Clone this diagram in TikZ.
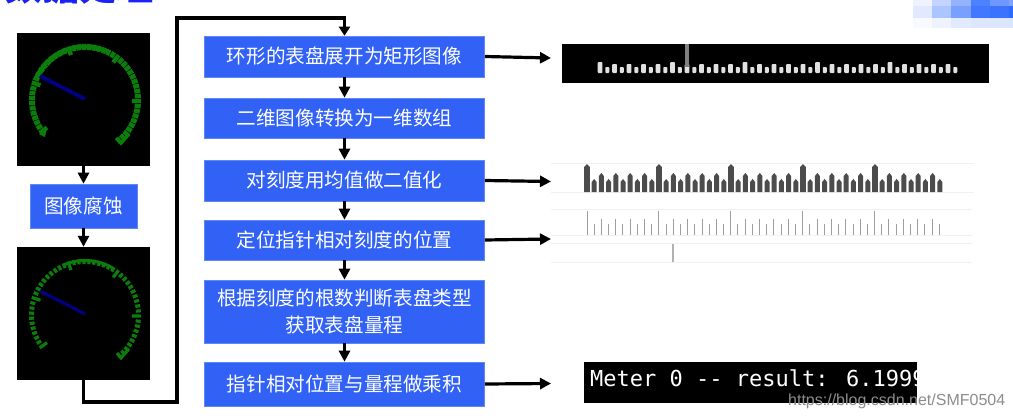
\documentclass[tikz,border=0pt]{standalone}
\usepackage{fontspec}
\setmainfont{Noto Sans CJK SC}
\newfontfamily\wmfont{Liberation Sans}
\newfontfamily\resfont{DejaVu Sans Mono}
\usetikzlibrary{arrows.meta}
\definecolor{boxblue}{HTML}{3162F5}
\definecolor{boxedge}{HTML}{5F88F7}
\definecolor{titleblue}{HTML}{1A22F5}
\definecolor{gaugegreen}{HTML}{0A7D0A}
\definecolor{needleblue}{HTML}{000080}
\definecolor{faint}{HTML}{F1F1F1}
\tikzset{
  stepbox/.style={fill=boxblue,draw=boxedge,line width=0.6pt,text=white,inner sep=0pt,align=center,minimum width=280pt,font=\fontsize{19.6}{27}\selectfont},
  blackpanel/.style={fill=black,inner sep=0pt,minimum width=133pt,minimum height=133pt},
  flow/.style={line width=3.2pt,draw=black,-{Triangle[length=11pt,width=11pt]}},
  route/.style={line width=3.2pt,draw=black,line join=miter,-{Triangle[length=9pt,width=11pt]}},
  faintline/.style={draw=faint,line width=1pt},
}
\begin{document}
\begin{tikzpicture}[x=1pt,y=-1pt]
\useasboundingbox (0,0) rectangle (1013,418);
\fill[white] (0,0) rectangle (1013,418);

% clipped heading
\begin{scope}
\clip (0,0) rectangle (200,4);
\node[anchor=base west,inner sep=0pt,text=titleblue,font=\fontsize{37}{37}\selectfont\bfseries] (title) at (5,0.5) {数据处理};
\end{scope}

% pixelated corner
\foreach \cx/\cy/\col in {
 913/0/EEF3FF,932/0/C2D4FF,951/0/93B3FF,971/0/4D82FF,990/0/6E97FF,1009/0/7FA3FF,
 913/6/E0E9FF,932/6/ABC5FF,951/6/79A0FF,971/6/4178FF,990/6/3B73FF,1009/6/2F6AFF,
 913/18/F8FAFF,932/18/EEF3FF,951/18/E2EAFF,971/18/DDE6FF,990/18/DCE6FF,1009/18/DAE5FF}
{
  \definecolor{cellc}{HTML}{\col}
  \fill[cellc] (\cx,\cy) rectangle ++(19.5,{\cy==0 ? 6.2 : (\cy==6 ? 12.2 : 10)});
}

% gauge panels
\node[blackpanel] (m1) at (83.5,99.5) {};
\node[blackpanel] (m2) at (83.5,313.5) {};
\draw[gaugegreen,line width=4pt] ({85+53.5*cos(155)},{100-53.5*sin(155)}) arc[start angle=205,end angle=295,radius=53.5];
\foreach \i in {0,...,49}{
  \pgfmathsetmacro{\a}{216-\i*266/49}
  \pgfmathsetmacro{\ri}{(mod(\i,10)==0) ? 47 : 50}
  \draw[gaugegreen,line width=4.3pt] ({85+\ri*cos(\a)},{100-\ri*sin(\a)}) -- ({85+56*cos(\a)},{100-56*sin(\a)});
}
\draw[gaugegreen,line width=3pt] ({85+54.5*cos(112)},{315-54.5*sin(112)}) arc[start angle=248,end angle=300,radius=54.5];
\foreach \i in {0,...,49}{
  \pgfmathsetmacro{\a}{216-\i*266/49}
  \pgfmathsetmacro{\ri}{(mod(\i,10)==0) ? 47 : 51}
  \draw[gaugegreen,line width=3.2pt] ({85+\ri*cos(\a)},{315-\ri*sin(\a)}) -- ({85+56*cos(\a)},{315-56*sin(\a)});
}
\fill[gaugegreen] (39,134) -- (47,128) -- (45,137) -- cycle;
\draw[gaugegreen,line width=3.5pt] (116,138) -- (121,143) -- (129,134);
\draw[gaugegreen,line width=3pt] (117,353) -- (121,358) -- (129,349);
\draw[needleblue,line width=4pt] (85,99) -- (40,76);
\draw[needleblue,line width=3.2pt] (85,314) -- (40,291);

% left process box
\node[stepbox,minimum width=107pt,minimum height=44pt] (erode) at (83.5,206) {图像腐蚀};

% step boxes
\node[stepbox,minimum height=41pt] (b1) at (344.5,56.5) {环形的表盘展开为矩形图像};
\node[stepbox,minimum height=40pt] (b2) at (344.5,118) {二维图像转换为一维数组};
\node[stepbox,minimum height=41pt] (b3) at (344.5,180.5) {对刻度用均值做二值化};
\node[stepbox,minimum height=40pt] (b4) at (344.5,240) {定位指针相对刻度的位置};
\node[stepbox,minimum height=63pt] (b5) at (344.5,311.5) {根据刻度的根数判断表盘类型\\获取表盘量程};
\node[stepbox,minimum height=44pt] (b6) at (344.5,384) {指针相对位置与量程做乘积};

% strip 1
\node[fill=black,inner sep=0pt,minimum width=427pt,minimum height=39pt] (s1) at (775.5,63.5) {};
\foreach \i in {0,...,49}{
  \pgfmathsetmacro{\h}{(mod(\i,10)==0) ? 11 : ((mod(\i,2)==0) ? 9 : 6)}
  \pgfmathsetmacro{\wd}{(mod(\i,2)==0) ? 4.6 : 4}
  \fill[black!12,rounded corners=0.8pt] ({600+\i*7.25-\wd/2},73) rectangle ++(\wd,-\h);
}
\fill[black!50] (684.5,44) rectangle (689,67);

% strip 2
\draw[faintline] (551,163) -- (974,163);
\draw[faintline] (551,192.5) -- (974,192.5);
\foreach \i in {0,...,49}{
  \pgfmathsetmacro{\h}{(mod(\i,10)==0) ? 28 : ((mod(\i,2)==0) ? 19 : 13)}
  \pgfmathsetmacro{\wd}{(mod(\i,10)==0) ? 5.6 : 5}
  \fill[black!70] ({587+\i*7.2-\wd/2},192) -- ++(\wd,0) -- ++(0,{-\h+3}) -- ++({-\wd/2},-3) -- ++({-\wd/2},3) -- cycle;
}

% strip 3
\draw[faintline] (551,209) -- (972,209);
\draw[faintline] (551,235) -- (972,235);
\draw[faintline] (551,243.5) -- (972,243.5);
\draw[faintline] (551,262.5) -- (972,262.5);
\foreach \i in {0,...,49}{
  \pgfmathsetmacro{\t}{(mod(\i,10)==0) ? 211 : ((mod(\i,2)==0) ? 219 : 224)}
  \draw[black!38,line width=1pt] ({587+\i*7.19},235) -- ({587+\i*7.19},\t);
}
\draw[black!30,line width=1.5pt] (673,244) -- (673,262);

% result strip
\node[fill=black,inner sep=0pt,minimum width=333pt,minimum height=41pt] (res) at (750.5,382.5) {};
\begin{scope}
\clip (584,362) rectangle (917,403);
\node[anchor=base west,inner sep=0pt,text=white,font=\fontsize{22}{24}\selectfont\resfont] (restext) at (590,386.5) {Meter 0 -{}- result: 6.1999};
\end{scope}
\node[anchor=base west,inner sep=0pt,text=black!45,font=\fontsize{16}{18}\selectfont\wmfont] (wm) at (788,405) {https://blog.csdn.net/SMF0504};

% arrow ends
\coordinate (a1) at (551,58);
\coordinate (a3) at (551,181.5);
\coordinate (a4) at (551,239);
\coordinate (a6) at (551,383.5);
\coordinate (r1) at (83.5,402);
\coordinate (r2) at (177,402);
\coordinate (r3) at (177,18);
\coordinate (r4) at (344.5,18);

% connectors
\draw[flow] (m1.south) -- (erode.north);
\draw[flow] (erode.south) -- (m2.north);
\draw[route] (m2.south) -- (r1) -- (r2) -- (r3) -- (r4) -- (b1.north);
\draw[flow] (b1.south) -- (b2.north);
\draw[flow] (b2.south) -- (b3.north);
\draw[flow] (b3.south) -- (b4.north);
\draw[flow] (b4.south) -- (b5.north);
\draw[flow] (b5.south) -- (b6.north);
\draw[flow] (b1.east) -- (a1);
\draw[flow] (b3.east) -- (a3);
\draw[flow] (b4.east) -- (a4);
\draw[flow] (b6.east) -- (a6);
\end{tikzpicture}
\end{document}
